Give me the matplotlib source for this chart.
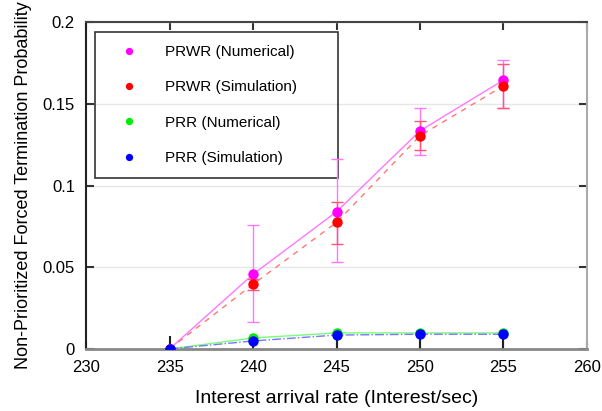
import numpy as np
import matplotlib.pyplot as plt

plt.rcParams['font.family'] = ['Liberation Sans', 'DejaVu Sans']

rate = [235, 240, 245, 250, 255]

prwr_num = [0.0, 0.0457, 0.0840, 0.1335, 0.1646]
prwr_num_lo = [0.0, 0.0165, 0.0530, 0.1190, 0.1476]
prwr_num_hi = [0.0, 0.0756, 0.1160, 0.1476, 0.1770]

prwr_sim = [0.0, 0.0396, 0.0774, 0.1305, 0.1610]
prwr_sim_lo = [0.0, 0.0360, 0.0640, 0.1220, 0.1476]
prwr_sim_hi = [0.0, 0.0430, 0.0902, 0.1396, 0.1744]

prr_num = [0.0, 0.0067, 0.0098, 0.0098, 0.0098]
prr_sim = [0.0, 0.0049, 0.0085, 0.0090, 0.0090]
prr_sim_lo = [0.0, 0.0, 0.0, 0.0, 0.0]
prr_sim_hi = [0.0079, 0.0075, 0.0110, 0.0115, 0.0115]

fig = plt.figure(figsize=(6.02, 4.11), dpi=100)
ax = fig.add_axes([0.143, 0.151, 0.832, 0.795])

def errs(v, lo, hi):
    v = np.array(v)
    return [v - np.array(lo), np.array(hi) - v]

# error bars first
ax.errorbar(rate, prwr_num, yerr=errs(prwr_num, prwr_num_lo, prwr_num_hi), fmt='none',
            ecolor='#ff77ff', elinewidth=1, capsize=4, capthick=1, zorder=2)
ax.errorbar(rate, prwr_sim, yerr=errs(prwr_sim, prwr_sim_lo, prwr_sim_hi), fmt='none',
            ecolor='#ff5577', elinewidth=1, capsize=4, capthick=1, zorder=2)
ax.errorbar(rate, prr_sim, yerr=errs(prr_sim, prr_sim_lo, prr_sim_hi), fmt='none',
            ecolor='#222222', elinewidth=1.5, capsize=0, zorder=2)

# lines
ax.plot(rate, prwr_num, '-', color='#ff77ff', lw=1, zorder=3)
ax.plot(rate, prwr_sim, '--', color='#ff7777', lw=1, dashes=(4, 4), zorder=3)
ax.plot(rate, prr_num, '-', color='#77ff77', lw=1, zorder=3)
ax.plot(rate, prr_sim, '-.', color='#7777ff', lw=1, zorder=3)

# markers
ax.plot(rate, prwr_num, 'o', color='#ff00ff', ms=7.5, mec='none', zorder=4, label='PRWR (Numerical)')
ax.plot(rate, prwr_sim, 'o', color='#ff0000', ms=7.5, mec='none', zorder=5, label='PRWR (Simulation)')
ax.plot(rate, prr_num, 'o', color='#00ee00', ms=7.5, mec='none', zorder=4, label='PRR (Numerical)')
ax.plot(rate, prr_sim, 'o', color='#0000ff', ms=7.5, mec='none', zorder=5, label='PRR (Simulation)')

ax.set_xlim(230, 260)
ax.set_ylim(0, 0.2)
ax.set_xticks([230, 235, 240, 245, 250, 255, 260])
ax.set_yticks([0, 0.05, 0.1, 0.15, 0.2])
ax.set_yticklabels(['0', '0.05', '0.1', '0.15', '0.2'])
ax.tick_params(direction='in', length=6, width=1.5, top=True, right=True,
               labelsize=12, pad=8, color='#333333')
ax.grid(axis='y', color='#e6e6e6', lw=1)
ax.set_axisbelow(True)

ax.spines['bottom'].set_color('#888888')
ax.spines['bottom'].set_linewidth(2)
ax.spines['left'].set_color('#222222')
ax.spines['top'].set_color('#444444')
ax.spines['right'].set_color('#aaaaaa')
for s in ['left', 'top', 'right']:
    ax.spines[s].set_linewidth(1.5)

ax.set_xlabel('Interest arrival rate (Interest/sec)', fontsize=14, labelpad=11)
ax.set_ylabel('Non-Prioritized Forced Termination Probability', fontsize=13, labelpad=8)

# gnuplot-style key: no fill, data shows through
leg = ax.legend(loc='upper left',
                bbox_to_anchor=(95 / 602, 1 - 178 / 411, 243 / 602, 146 / 411),
                bbox_transform=fig.transFigure, mode='expand', fontsize=11, markerscale=0.7,
                labelspacing=1.4, borderpad=0.85, handletextpad=1.05, handlelength=2.7,
                fancybox=False, edgecolor='black', borderaxespad=0)
leg.get_frame().set_facecolor('none')
leg.get_frame().set_linewidth(1.2)
leg.set_zorder(1)

plt.savefig('out.png', dpi=100)
